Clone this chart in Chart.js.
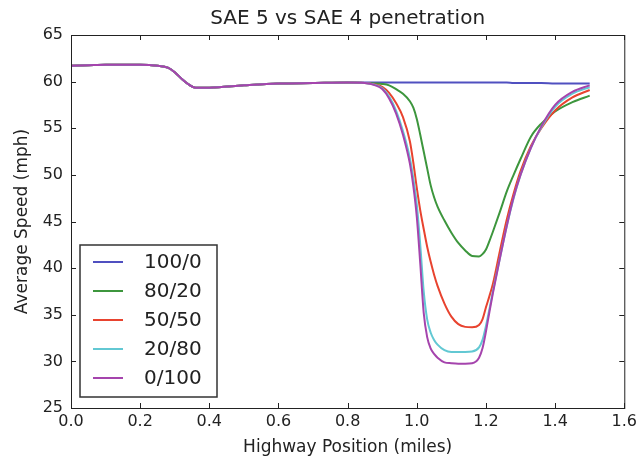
<!DOCTYPE html>
<html>
<head>
<meta charset="utf-8">
<script src="https://cdn.jsdelivr.net/npm/chart.js@4.4.0/dist/chart.umd.min.js"></script>
<style>
  html, body { margin: 0; padding: 0; background: #fff; }
</style>
</head>
<body>
<canvas id="speedChart" width="641" height="458"></canvas>
<script>
// Highway position (miles) shared by all runs
const positions = [0, 0.05, 0.1, 0.15, 0.2, 0.25, 0.28, 0.3, 0.32, 0.34, 0.36, 0.4, 0.5, 0.6, 0.7, 0.8,
  0.85, 0.88, 0.9, 0.92, 0.94, 0.96, 0.98, 0.99, 1.0, 1.01, 1.02, 1.03, 1.04, 1.05, 1.06, 1.08, 1.1, 1.12, 1.14, 1.16, 1.18,
  1.19, 1.2, 1.21, 1.22, 1.24, 1.26, 1.28, 1.3, 1.33, 1.36, 1.4, 1.45, 1.5];

// speed up to 0.8 mi is the same for every penetration mix
const commonStart = [61.7, 61.75, 61.8, 61.8, 61.8, 61.7, 61.5, 61.0, 60.3, 59.7, 59.35, 59.35, 59.6, 59.8, 59.85, 59.9];

const speed100_0 = commonStart.concat([59.9, 59.9, 59.9, 59.9, 59.9, 59.9, 59.9, 59.9, 59.9, 59.9, 59.9, 59.9, 59.9,
  59.9, 59.9, 59.9, 59.9, 59.9, 59.9, 59.9, 59.9, 59.9, 59.9, 59.9, 59.9, 59.9, 59.9, 59.85, 59.85, 59.85, 59.85, 59.8, 59.8, 59.8]);
const speed80_20 = commonStart.concat([59.85, 59.8, 59.75, 59.6, 59.2, 58.7, 57.9, 57.2, 56.0, 54.3, 52.5, 50.7, 48.9,
  47.6, 46.6, 45.1, 43.8, 42.7, 41.9, 41.3, 41.25, 41.5, 42.0, 42.9, 43.9, 46.0, 48.2, 50.0, 51.7, 54.1, 55.5, 56.8, 57.8, 58.5]);
const speed50_50 = commonStart.concat([59.85, 59.7, 59.45, 58.8, 57.7, 56.2, 53.6, 51.3, 48.6, 46.2, 44.2, 42.3, 40.7,
  39.3, 38.1, 36.2, 34.8, 34.0, 33.7, 33.65, 33.9, 34.5, 35.8, 37.0, 38.3, 41.8, 45.2, 48.0, 50.4, 53.1, 55.0, 56.9, 58.3, 59.1]);
const speed20_80 = commonStart.concat([59.85, 59.65, 59.3, 58.4, 56.9, 54.7, 51.8, 49.6, 46.8, 42.5, 37.5, 34.5, 33.1,
  32.3, 31.8, 31.2, 31.0, 31.0, 31.0, 31.05, 31.5, 32.3, 33.8, 35.6, 37.5, 41.0, 44.5, 47.5, 50.0, 52.9, 55.1, 57.3, 58.7, 59.4]);
const speed0_100 = commonStart.concat([59.85, 59.6, 59.2, 58.2, 56.6, 54.3, 51.2, 48.8, 45.5, 40.5, 35.2, 32.6, 31.4,
  30.8, 30.4, 29.9, 29.8, 29.75, 29.75, 29.8, 30.4, 31.4, 33.2, 35.3, 37.3, 41.0, 44.5, 47.6, 50.0, 52.9, 55.2, 57.5, 58.9, 59.6]);

const seriesLabels = ['100/0', '80/20', '50/50', '20/80', '0/100'];
const seriesValues = [speed100_0, speed80_20, speed50_50, speed20_80, speed0_100];
const seriesColors = ['#5050c0', '#3d963d', '#e8432f', '#62c8d3', '#a544ad'];

const xTicks = [0, 0.2, 0.4, 0.6, 0.8, 1.0, 1.2, 1.4, 1.6];
const yTicks = [25, 30, 35, 40, 45, 50, 55, 60, 65];

const FONT = 'DejaVu Sans';

// matplotlib style frame, inward ticks on all four sides, legend box
const framePlugin = {
  id: 'frame',
  afterDraw(chart) {
    const { ctx, chartArea: a, scales } = chart;
    ctx.save();
    ctx.strokeStyle = '#222';
    ctx.lineWidth = 1;
    ctx.strokeRect(a.left + 0.5, a.top + 0.5, a.right - a.left, a.bottom - a.top);
    ctx.beginPath();
    xTicks.forEach(v => {
      const px = Math.round(scales.x.getPixelForValue(v)) + 0.5;
      ctx.moveTo(px, a.bottom); ctx.lineTo(px, a.bottom - 5);
      ctx.moveTo(px, a.top); ctx.lineTo(px, a.top + 5);
    });
    yTicks.forEach(v => {
      const py = Math.round(scales.y.getPixelForValue(v)) + 0.5;
      ctx.moveTo(a.left, py); ctx.lineTo(a.left + 5, py);
      ctx.moveTo(a.right, py); ctx.lineTo(a.right - 5, py);
    });
    ctx.stroke();

    // legend
    const lx = 80, ly = 245, lw = 137, lh = 152;
    ctx.fillStyle = '#fff';
    ctx.fillRect(lx, ly, lw, lh);
    ctx.strokeStyle = '#333';
    ctx.lineWidth = 1.5;
    ctx.strokeRect(lx, ly, lw, lh);
    ctx.font = '20px "' + FONT + '"';
    ctx.textBaseline = 'middle';
    seriesLabels.forEach((lab, i) => {
      const y = 262 + i * 29;
      ctx.strokeStyle = seriesColors[i];
      ctx.lineWidth = 2;
      ctx.beginPath();
      ctx.moveTo(93, y); ctx.lineTo(123, y);
      ctx.stroke();
      ctx.fillStyle = '#222';
      ctx.fillText(lab, 144, y + 1);
    });
    ctx.restore();
  }
};

new Chart(document.getElementById('speedChart'), {
  type: 'line',
  data: {
    datasets: seriesLabels.map((lab, i) => ({
      label: lab,
      data: positions.map((x, j) => ({ x: x, y: seriesValues[i][j] })),
      borderColor: seriesColors[i],
      borderWidth: 2,
      pointRadius: 0,
      fill: false,
      cubicInterpolationMode: 'monotone',
      order: seriesLabels.length - i
    }))
  },
  options: {
    responsive: false,
    animation: false,
    layout: { padding: { left: 0, right: 15, top: 0, bottom: 0 } },
    plugins: {
      legend: { display: false },
      tooltip: { enabled: false },
      title: {
        display: true,
        fullSize: false,
        text: 'SAE 5 vs SAE 4 penetration',
        color: '#222',
        font: { family: FONT, size: 20, weight: 'normal' },
        padding: { top: 7, bottom: 4 }
      }
    },
    scales: {
      x: {
        type: 'linear',
        min: 0,
        max: 1.6,
        afterFit: s => { s.height = 50; },
        afterBuildTicks: s => { s.ticks = xTicks.map(v => ({ value: v })); },
        grid: { display: false, tickLength: 0 },
        border: { display: false },
        ticks: {
          color: '#222',
          padding: 4,
          font: { family: FONT, size: 16 },
          callback: v => v.toFixed(1)
        },
        title: {
          display: true,
          text: 'Highway Position (miles)',
          color: '#222',
          font: { family: FONT, size: 17 },
          padding: { top: 0, bottom: 0 }
        }
      },
      y: {
        min: 25,
        max: 65,
        afterFit: s => { s.width = 71; },
        afterBuildTicks: s => { s.ticks = yTicks.map(v => ({ value: v })); },
        grid: { display: false, tickLength: 0 },
        border: { display: false },
        ticks: {
          color: '#222',
          padding: 8,
          font: { family: FONT, size: 16 }
        },
        title: {
          display: true,
          text: 'Average Speed (mph)',
          color: '#222',
          font: { family: FONT, size: 17 },
          padding: { top: 12, bottom: 0 }
        }
      }
    }
  },
  plugins: [framePlugin]
});
</script>
</body>
</html>
